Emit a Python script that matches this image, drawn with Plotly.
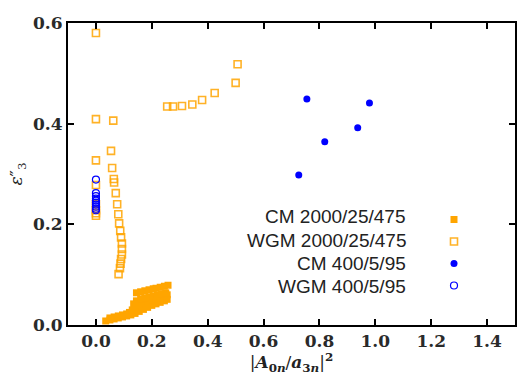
import plotly.graph_objects as go

# ---- data ----
cm2000_x = [0.035, 0.05, 0.065, 0.08, 0.095, 0.11, 0.125, 0.14, 0.155, 0.17, 0.185, 0.20, 0.215, 0.23, 0.245, 0.255,
            0.05, 0.065, 0.08, 0.095, 0.11, 0.12, 0.13, 0.14, 0.155, 0.17, 0.185, 0.20, 0.215, 0.23, 0.245, 0.255,
            0.135, 0.145, 0.16, 0.175, 0.19, 0.205, 0.22, 0.235, 0.25,
            0.145, 0.16, 0.175, 0.19, 0.205, 0.215, 0.23, 0.245, 0.258]
cm2000_y = [0.008, 0.010, 0.012, 0.014, 0.016, 0.018, 0.020, 0.023, 0.027, 0.031, 0.035, 0.039, 0.042, 0.045, 0.048, 0.051,
            0.014, 0.016, 0.018, 0.020, 0.022, 0.025, 0.030, 0.036, 0.040, 0.044, 0.047, 0.050, 0.053, 0.056, 0.058, 0.060,
            0.042, 0.048, 0.052, 0.054, 0.056, 0.058, 0.060, 0.062, 0.064,
            0.064, 0.066, 0.068, 0.070, 0.072, 0.073, 0.075, 0.077, 0.079]

wgm2000_x = [0.0, 0.507, 0.50, 0.425, 0.38, 0.345, 0.308, 0.276, 0.255,
             0.0, 0.062, 0.054, 0.0, 0.058, 0.064, 0.065, 0.071, 0.076, 0.080, 0.083,
             0.087, 0.090, 0.093, 0.093, 0.093, 0.090, 0.088, 0.086, 0.081,
             0.0, 0.0, 0.0, 0.0, 0.0]
wgm2000_y = [0.580, 0.518, 0.481, 0.461, 0.447, 0.438, 0.435, 0.434, 0.434,
             0.409, 0.406, 0.346, 0.327, 0.312, 0.290, 0.283, 0.262, 0.240, 0.220, 0.202,
             0.187, 0.174, 0.162, 0.151, 0.140, 0.131, 0.122, 0.113, 0.101,
             0.278, 0.240, 0.228, 0.222, 0.217]

cm400_x = [0.755, 0.979, 0.937, 0.819, 0.726]
cm400_y = [0.449, 0.441, 0.392, 0.364, 0.298]

wgm400_x = [0.0, 0.0, 0.0, 0.0, 0.0, 0.0, 0.0, 0.0, 0.0, 0.0]
wgm400_y = [0.289, 0.262, 0.256, 0.251, 0.247, 0.243, 0.239, 0.235, 0.231, 0.228]

labels = ["CM 2000/25/475", "WGM 2000/25/475", "CM 400/5/95", "WGM 400/5/95"]

ORANGE = "#FFA500"
BLUE = "#0000FF"

fig = go.Figure()
fig.add_trace(go.Scatter(x=cm2000_x, y=cm2000_y, mode="markers", name=labels[0], legendgroup="a",
                         marker=dict(symbol="square", size=7, color=ORANGE, line=dict(width=0))))
fig.add_trace(go.Scatter(x=wgm2000_x, y=wgm2000_y, mode="markers", name=labels[1], legendgroup="b",
                         marker=dict(symbol="square-open", size=7, color=ORANGE, opacity=0.85,
                                     line=dict(width=1.6, color=ORANGE))))
fig.add_trace(go.Scatter(x=cm400_x, y=cm400_y, mode="markers", name=labels[2], legendgroup="c",
                         marker=dict(symbol="circle", size=7, color=BLUE, line=dict(width=0))))
fig.add_trace(go.Scatter(x=wgm400_x, y=wgm400_y, mode="markers", name=labels[3], legendgroup="d",
                         marker=dict(symbol="circle-open", size=7, color=BLUE,
                                     line=dict(width=1.2, color=BLUE))))

L, R, T, B = 68, 10, 23, 50
W, H = 525, 375
pw = W - L - R
ph = H - T - B

# legend text drawn as annotations to the left of the legend markers
row_y = [217, 240, 263, 286]
for lab, yy in zip(labels, row_y):
    fig.add_annotation(text=lab, xref="paper", yref="paper",
                       x=(408 - L) / pw, y=(H - B - yy) / ph,
                       xanchor="right", yanchor="middle", showarrow=False,
                       font=dict(family="Liberation Sans, Arial, sans-serif", size=19, color="#222"))

tickfont = dict(family="DejaVu Serif, serif", size=17, color="#2a2a2a", weight="bold")
axis_common = dict(showline=True, linecolor="black", linewidth=2, mirror="ticks",
                   ticks="inside", ticklen=6, tickwidth=2, tickcolor="black",
                   showgrid=False, zeroline=False, tickfont=tickfont)

fig.update_layout(
    width=W, height=H,
    margin=dict(l=L, r=R, t=T, b=B, autoexpand=False),
    paper_bgcolor="white", plot_bgcolor="white",
    showlegend=True,
    legend=dict(x=(454 - 20 - L) / pw, y=(H - B - 205) / ph, xanchor="left", yanchor="top",
                bgcolor="rgba(0,0,0,0)", borderwidth=0,
                font=dict(size=1, color="rgba(0,0,0,0)"), tracegroupgap=3),
    xaxis=dict(range=[-0.1, 1.5], tickvals=[0.0, 0.2, 0.4, 0.6, 0.8, 1.0, 1.2, 1.4],
               ticktext=["0.0", "0.2", "0.4", "0.6", "0.8", "1.0", "1.2", "1.4"],
               title=dict(text="|<b><i>A</i></b><sub><b>0<i>n</i></b></sub>/<b><i>a</i></b><sub><b>3<i>n</i></b></sub>|<sup><b>2</b></sup>",
                          font=dict(family="DejaVu Serif, serif", size=17, color="#222"), standoff=2),
               **axis_common),
    yaxis=dict(range=[0, 0.6], tickvals=[0.0, 0.2, 0.4, 0.6],
               ticktext=["0.0", "0.2", "0.4", "0.6"],
               title=dict(text="<i>ε</i>″<sub>3</sub>",
                          font=dict(family="DejaVu Serif, serif", size=17, color="#222"), standoff=6),
               **axis_common),
)

fig.write_html("out.html")
